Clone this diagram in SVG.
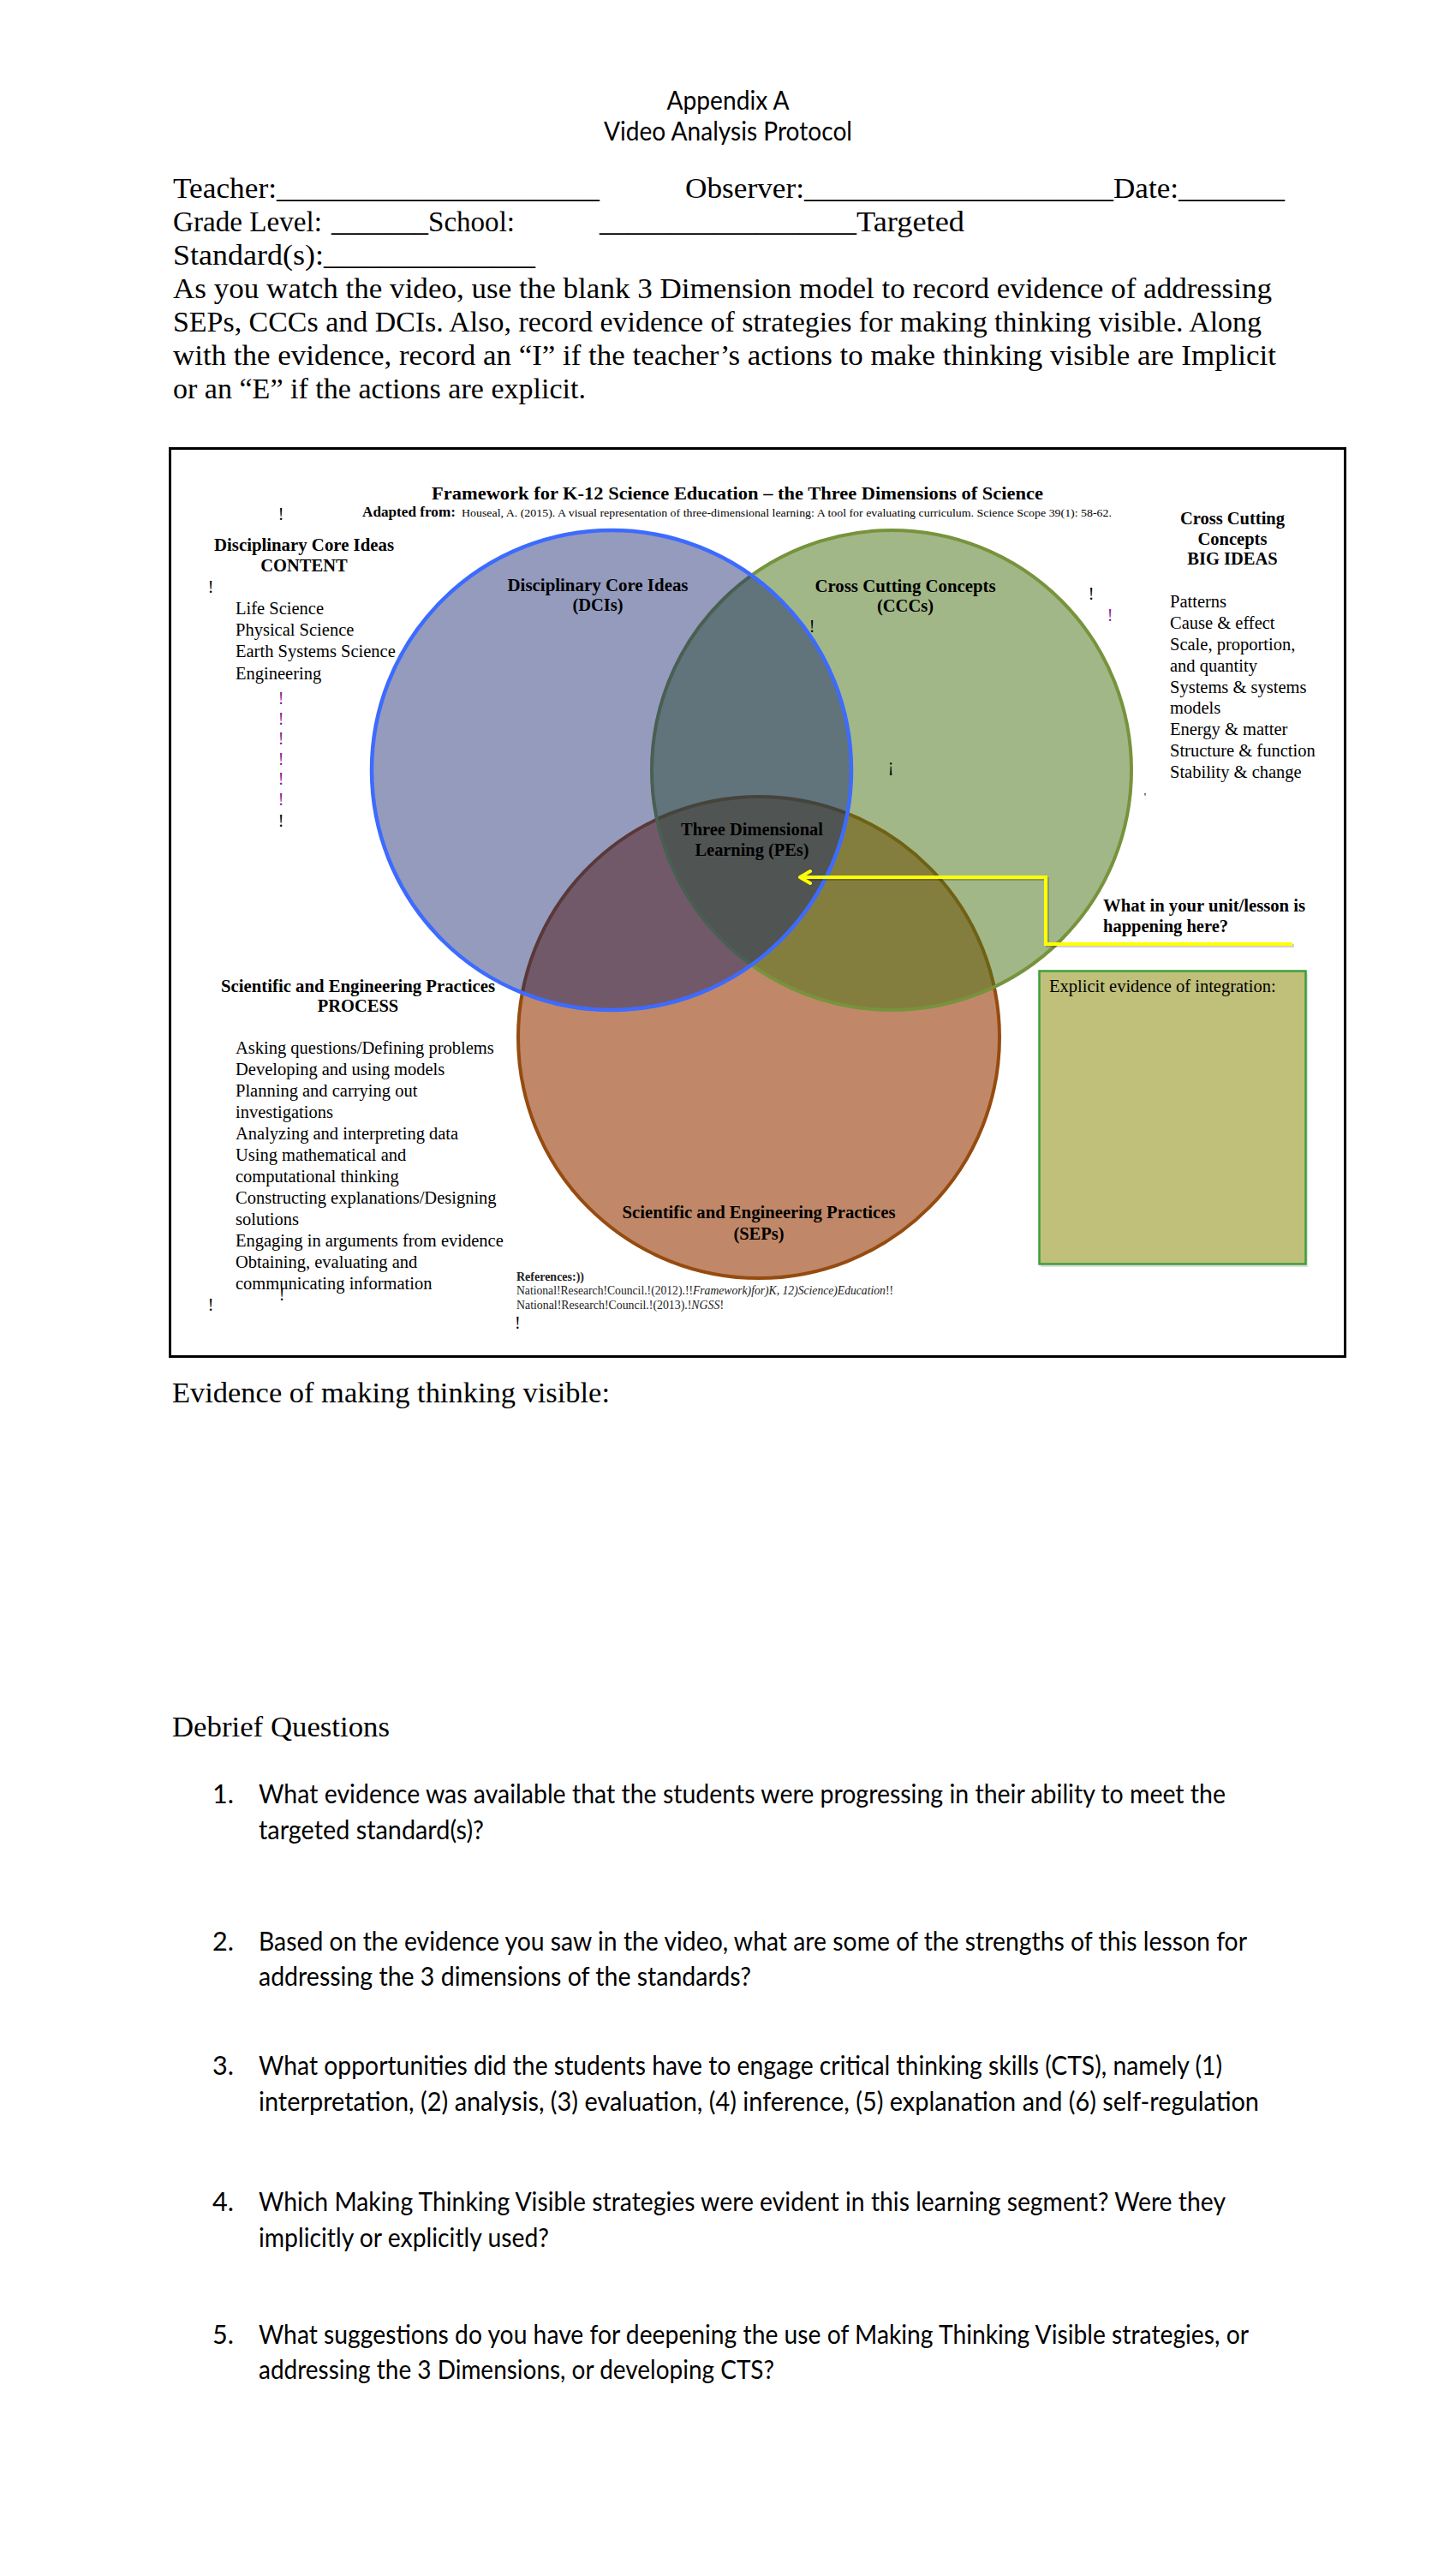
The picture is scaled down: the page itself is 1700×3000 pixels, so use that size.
<svg xmlns="http://www.w3.org/2000/svg" width="1700" height="3000" viewBox="0 0 1700 3000">
<defs>
<style>
.cal{font-family:Lato,"Open Sans","Liberation Sans",sans-serif;font-size:30.6px;fill:#000}
.cam{font-family:"Liberation Serif","DejaVu Serif",serif;font-size:33px;fill:#000}
.t{font-family:"Liberation Serif","Times New Roman",serif;font-size:20.5px;fill:#000}
.tb{font-family:"Liberation Serif","Times New Roman",serif;font-size:20.5px;font-weight:bold;fill:#000}
.mid{text-anchor:middle}
.ex{font-family:"Liberation Serif",serif;font-size:20px;fill:#000}
.pu{font-family:"Liberation Serif",serif;font-size:20px;fill:#8b1a8b}
.ref{font-family:"Liberation Serif",serif;font-size:14px;fill:#222}
</style>
<marker id="chev" viewBox="-16 -10 20 20" markerWidth="20" markerHeight="20" refX="0" refY="0" orient="auto" markerUnits="userSpaceOnUse">
<path d="M-12,-7 L0,0 L-12,7" fill="none" stroke="#ffff00" stroke-width="4" stroke-linecap="round" stroke-linejoin="round"/>
</marker>
</defs>
<rect width="1700" height="3000" fill="#fff"/>

<g id="header">
<text class="cal mid" x="850" y="128" textLength="143" lengthAdjust="spacingAndGlyphs">Appendix A</text>
<text class="cal mid" x="850" y="164" textLength="290" lengthAdjust="spacingAndGlyphs">Video Analysis Protocol</text>
</g>

<g id="form">
<text class="cam" x="202" y="231" textLength="121" lengthAdjust="spacingAndGlyphs">Teacher:</text>
<text class="cam" x="323" y="231" textLength="377" lengthAdjust="spacingAndGlyphs">_______________________</text>
<text class="cam" x="800" y="231" textLength="139" lengthAdjust="spacingAndGlyphs">Observer:</text>
<text class="cam" x="939" y="231" textLength="361" lengthAdjust="spacingAndGlyphs">______________________</text>
<text class="cam" x="1300" y="231" textLength="76" lengthAdjust="spacingAndGlyphs">Date:</text>
<text class="cam" x="1376" y="231" textLength="124" lengthAdjust="spacingAndGlyphs">________</text>
<text class="cam" x="202" y="270" textLength="174" lengthAdjust="spacingAndGlyphs">Grade Level:</text>
<text class="cam" x="387" y="270" textLength="113" lengthAdjust="spacingAndGlyphs">_______</text>
<text class="cam" x="500" y="270" textLength="101" lengthAdjust="spacingAndGlyphs">School:</text>
<text class="cam" x="700" y="270" textLength="300" lengthAdjust="spacingAndGlyphs">__________________</text>
<text class="cam" x="1000" y="270" textLength="126" lengthAdjust="spacingAndGlyphs">Targeted</text>
<text class="cam" x="202" y="309" textLength="176" lengthAdjust="spacingAndGlyphs">Standard(s):</text>
<text class="cam" x="378" y="309" textLength="247" lengthAdjust="spacingAndGlyphs">_______________</text>
<text class="cam" x="202" y="348" textLength="1283" lengthAdjust="spacingAndGlyphs">As you watch the video, use the blank 3 Dimension model to record evidence of addressing</text>
<text class="cam" x="202" y="387" textLength="1271" lengthAdjust="spacingAndGlyphs">SEPs, CCCs and DCIs. Also, record evidence of strategies for making thinking visible. Along</text>
<text class="cam" x="202" y="426" textLength="1288" lengthAdjust="spacingAndGlyphs">with the evidence, record an “I” if the teacher’s actions to make thinking visible are Implicit</text>
<text class="cam" x="202" y="465" textLength="482" lengthAdjust="spacingAndGlyphs">or an “E” if the actions are explicit.</text>
</g>

<g id="diagram-frame">
<rect x="198.5" y="523.5" width="1372" height="1060" fill="#fff" stroke="#000" stroke-width="3"/>
</g>

<g id="venn">
<g id="sep-circle"><circle cx="886" cy="1211" r="281" fill="#c08868" stroke="#964b0f" stroke-width="4"/></g>
<g id="ccc-circle"><circle cx="1041" cy="899" r="280" fill="rgb(76,117,24)" fill-opacity="0.52" stroke="#77933c" stroke-width="4"/></g>
<g id="dci-circle"><circle cx="714" cy="899" r="280" fill="rgb(17,33,108)" fill-opacity="0.45" stroke="#3d6bff" stroke-width="4.5"/></g>
</g>

<g id="connectors">
<path d="M1511,1104 H1223 V1026 H940" fill="none" stroke="#000" stroke-opacity="0.18" stroke-width="4"/>
<path d="M1509,1102 H1221 V1024 H934" fill="none" stroke="#ffff00" stroke-width="4" marker-end="url(#chev)"/>
</g>

<g id="title">
<text class="tb" x="504" y="583" font-size="22" style="font-size:22px" textLength="714" lengthAdjust="spacingAndGlyphs">Framework for K-12 Science Education – the Three Dimensions of Science</text>
<text class="tb" x="423" y="603" style="font-size:17px" textLength="109" lengthAdjust="spacingAndGlyphs">Adapted from:</text>
<text class="t" x="539" y="603" style="font-size:13px" textLength="759" lengthAdjust="spacingAndGlyphs">Houseal, A. (2015). A visual representation of three-dimensional learning: A tool for evaluating curriculum. Science Scope 39(1): 58-62.</text>
</g>

<g id="dci-content">
<text class="ex mid" x="328" y="607">!</text>
<text class="tb mid" x="355" y="643" textLength="210" lengthAdjust="spacingAndGlyphs">Disciplinary Core Ideas</text>
<text class="tb mid" x="355" y="667">CONTENT</text>
<text class="ex mid" x="246" y="692">!</text>
<text class="t" x="275" y="717">Life Science</text>
<text class="t" x="275" y="742">Physical Science</text>
<text class="t" x="275" y="767">Earth Systems Science</text>
<text class="t" x="275" y="793">Engineering</text>
<text class="pu mid" x="328" y="822">!</text>
<text class="pu mid" x="328" y="845.5">!</text>
<text class="pu mid" x="328" y="869">!</text>
<text class="pu mid" x="328" y="892.5">!</text>
<text class="pu mid" x="328" y="916">!</text>
<text class="pu mid" x="328" y="939.5">!</text>
<text class="ex mid" x="328" y="965">!</text>
</g>

<g id="ccc-bigideas">
<text class="tb mid" x="1439" y="612">Cross Cutting</text>
<text class="tb mid" x="1439" y="636">Concepts</text>
<text class="tb mid" x="1439" y="659">BIG IDEAS</text>
<text class="t" x="1366" y="709">Patterns</text>
<text class="t" x="1366" y="734">Cause &amp; effect</text>
<text class="t" x="1366" y="759">Scale, proportion,</text>
<text class="t" x="1366" y="784">and quantity</text>
<text class="t" x="1366" y="809">Systems &amp; systems</text>
<text class="t" x="1366" y="833">models</text>
<text class="t" x="1366" y="858">Energy &amp; matter</text>
<text class="t" x="1366" y="883">Structure &amp; function</text>
<text class="t" x="1366" y="908">Stability &amp; change</text>
</g>

<g id="circle-labels">
<text class="tb mid" x="698" y="690" textLength="211" lengthAdjust="spacingAndGlyphs">Disciplinary Core Ideas</text>
<text class="tb mid" x="698" y="713">(DCIs)</text>
<text class="tb mid" x="1057" y="691" textLength="211" lengthAdjust="spacingAndGlyphs">Cross Cutting Concepts</text>
<text class="tb mid" x="1057" y="714">(CCCs)</text>
<text class="tb mid" x="878" y="975" textLength="166" lengthAdjust="spacingAndGlyphs">Three Dimensional</text>
<text class="tb mid" x="878" y="999" textLength="133" lengthAdjust="spacingAndGlyphs">Learning (PEs)</text>
<text class="tb mid" x="886" y="1422" textLength="319" lengthAdjust="spacingAndGlyphs">Scientific and Engineering Practices</text>
<text class="tb mid" x="886" y="1447">(SEPs)</text>
<text class="ex mid" x="1274" y="700">!</text>
<text class="pu mid" x="1296" y="725">!</text>
<text class="ex mid" x="948" y="738">!</text>
<text class="ex mid" x="1040" y="900">¡</text>
<text class="ex mid" x="1337" y="934" style="font-size:13px">'</text>
</g>

<g id="question-note">
<text class="tb" x="1288" y="1064" textLength="236" lengthAdjust="spacingAndGlyphs">What in your unit/lesson is</text>
<text class="tb" x="1288" y="1088">happening here?</text>
</g>

<g id="explicit-box">
<rect x="1215" y="1136" width="312" height="343" fill="#ccc" opacity="0.6"/>
<rect x="1213.5" y="1133.5" width="311" height="342" fill="#c0c07a" stroke="#3c9f3c" stroke-width="2.5"/>
<text class="t" x="1225" y="1158">Explicit evidence of integration:</text>
</g>

<g id="sep-process">
<text class="tb mid" x="418" y="1158" textLength="320" lengthAdjust="spacingAndGlyphs">Scientific and Engineering Practices</text>
<text class="tb mid" x="418" y="1181">PROCESS</text>
<text class="t" x="275" y="1230">Asking questions/Defining problems</text>
<text class="t" x="275" y="1255">Developing and using models</text>
<text class="t" x="275" y="1280">Planning and carrying out</text>
<text class="t" x="275" y="1305">investigations</text>
<text class="t" x="275" y="1330">Analyzing and interpreting data</text>
<text class="t" x="275" y="1355">Using mathematical and</text>
<text class="t" x="275" y="1380">computational thinking</text>
<text class="t" x="275" y="1405">Constructing explanations/Designing</text>
<text class="t" x="275" y="1430">solutions</text>
<text class="t" x="275" y="1455">Engaging in arguments from evidence</text>
<text class="t" x="275" y="1480">Obtaining, evaluating and</text>
<text class="t" x="275" y="1505">communicating information</text>
<text class="ex mid" x="329" y="1518">!</text>
<text class="ex mid" x="246" y="1530">!</text>
</g>

<g id="references">
<text class="ref" x="603" y="1495" font-weight="bold" textLength="79" lengthAdjust="spacingAndGlyphs">References:))</text>
<text class="ref" x="603" y="1511" textLength="440" lengthAdjust="spacingAndGlyphs">National!Research!Council.!(2012).!!<tspan font-style="italic">Framework)for)K, 12)Science)Education</tspan>!!</text>
<text class="ref" x="603" y="1528" textLength="242" lengthAdjust="spacingAndGlyphs">National!Research!Council.!(2013).!<tspan font-style="italic">NGSS</tspan>!</text>
<text class="ex" x="601" y="1551">!</text>
</g>

<g id="evidence">
<text class="cam" x="201" y="1637" textLength="511" lengthAdjust="spacingAndGlyphs">Evidence of making thinking visible:</text>
</g>

<g id="debrief">
<text class="cam" x="201" y="2027" textLength="254" lengthAdjust="spacingAndGlyphs">Debrief Questions</text>
<text class="cal" x="248" y="2105">1.</text>
<text class="cal" x="302" y="2105" textLength="1129" lengthAdjust="spacingAndGlyphs">What evidence was available that the students were progressing in their ability to meet the</text>
<text class="cal" x="302" y="2147" textLength="263" lengthAdjust="spacingAndGlyphs">targeted standard(s)?</text>
<text class="cal" x="248" y="2277">2.</text>
<text class="cal" x="302" y="2277" textLength="1154" lengthAdjust="spacingAndGlyphs">Based on the evidence you saw in the video, what are some of the strengths of this lesson for</text>
<text class="cal" x="302" y="2318" textLength="575" lengthAdjust="spacingAndGlyphs">addressing the 3 dimensions of the standards?</text>
<text class="cal" x="248" y="2422">3.</text>
<text class="cal" x="302" y="2422" textLength="1125" lengthAdjust="spacingAndGlyphs">What opportunities did the students have to engage critical thinking skills (CTS), namely (1)</text>
<text class="cal" x="302" y="2464" textLength="1168" lengthAdjust="spacingAndGlyphs">interpretation, (2) analysis, (3) evaluation, (4) inference, (5) explanation and (6) self-regulation</text>
<text class="cal" x="248" y="2581">4.</text>
<text class="cal" x="302" y="2581" textLength="1129" lengthAdjust="spacingAndGlyphs">Which Making Thinking Visible strategies were evident in this learning segment? Were they</text>
<text class="cal" x="302" y="2623" textLength="339" lengthAdjust="spacingAndGlyphs">implicitly or explicitly used?</text>
<text class="cal" x="248" y="2736">5.</text>
<text class="cal" x="302" y="2736" textLength="1156" lengthAdjust="spacingAndGlyphs">What suggestions do you have for deepening the use of Making Thinking Visible strategies, or</text>
<text class="cal" x="302" y="2777" textLength="602" lengthAdjust="spacingAndGlyphs">addressing the 3 Dimensions, or developing CTS?</text>
</g>
</svg>
